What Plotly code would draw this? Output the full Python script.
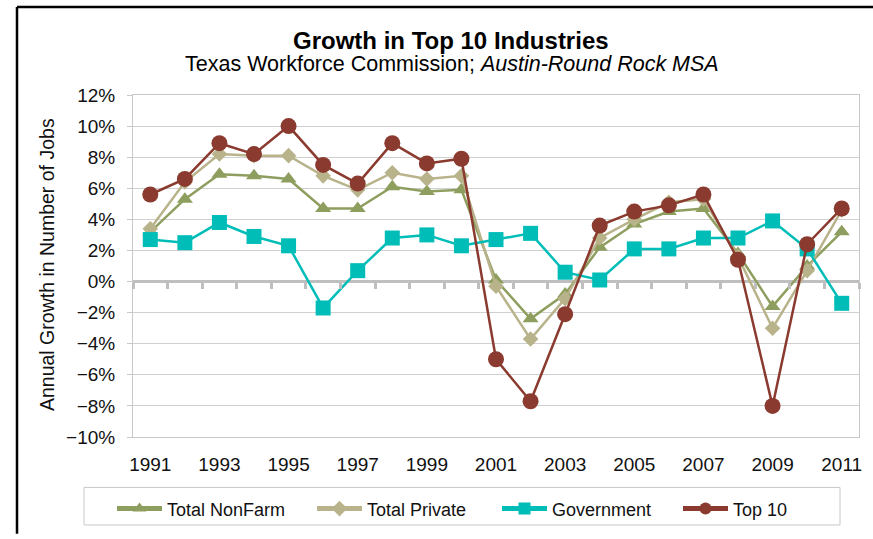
import plotly.graph_objects as go

years = list(range(1991, 2012))
total_nonfarm = [3.2, 5.3, 6.9, 6.8, 6.6, 4.7, 4.7, 6.1, 5.8, 5.9, 0.1, -2.4, -0.8, 2.2, 3.7, 4.5, 4.7, 1.8, -1.6, 1.0, 3.2]
total_private = [3.4, 6.4, 8.2, 8.1, 8.1, 6.8, 5.9, 7.0, 6.6, 6.8, -0.3, -3.7, -1.1, 2.8, 4.0, 5.1, 5.3, 1.6, -3.0, 0.7, 4.6]
government = [2.7, 2.5, 3.8, 2.9, 2.3, -1.7, 0.7, 2.8, 3.0, 2.3, 2.7, 3.1, 0.6, 0.1, 2.1, 2.1, 2.8, 2.8, 3.9, 2.1, -1.4]
top10 = [5.6, 6.6, 8.9, 8.2, 10.0, 7.5, 6.3, 8.9, 7.6, 7.9, -5.0, -7.7, -2.1, 3.6, 4.5, 4.9, 5.6, 1.4, -8.0, 2.4, 4.7]
xtick_years = list(range(1991, 2012, 2))
boundary_ticks = [y + 0.5 for y in range(1990, 2012)]

FONT = "Liberation Sans, Arial, sans-serif"
W, H = 873, 539
L, R, T, B = 133, 14, 95, 98
pw, ph = W - L - R, H - T - B

def px_x(x):
    return (x - L) / pw

def px_y(y):
    return (H - B - y) / ph

fig = go.Figure()
series = [
    ("Total NonFarm", total_nonfarm, "#8E9E5E", "triangle-up", 14, 140),
    ("Total Private", total_private, "#B8B38A", "diamond", 12, 125),
    ("Government", government, "#00BDB8", "square", 15, 121),
    ("Top 10", top10, "#8A3A2E", "circle", 16, 60),
]
for name, vals, color, sym, size, lw in series:
    fig.add_trace(go.Scatter(
        x=years, y=vals, name=name, mode="lines+markers",
        line=dict(color=color, width=2.5),
        marker=dict(symbol=sym, size=size, color=color, line=dict(width=0)),
        legendwidth=lw,
    ))

# helper trace to host the zero-line tick axis
fig.add_trace(go.Scatter(x=[], y=[], xaxis="x2", yaxis="y", showlegend=False, hoverinfo="skip"))

fig.update_layout(
    width=W, height=H,
    margin=dict(l=L, r=R, t=T, b=B),
    paper_bgcolor="white", plot_bgcolor="white",
    font=dict(family=FONT, size=19, color="#111111"),
    showlegend=True,
    legend=dict(
        orientation="h", x=px_x(112), xanchor="left", y=px_y(495), yanchor="top",
        borderwidth=0, bgcolor="rgba(0,0,0,0)",
        font=dict(size=18, color="#111111"), itemsizing="constant", itemwidth=45,
    ),
    xaxis=dict(
        range=[1990.5, 2011.5], tickvals=xtick_years, ticktext=[str(y) for y in xtick_years],
        showgrid=False, zeroline=False, showline=True, mirror=True,
        linecolor="#C8C8C8", linewidth=1, ticks="", ticklabelstandoff=10,
        tickfont=dict(size=19),
    ),
    xaxis2=dict(
        range=[1990.5, 2011.5], overlaying="x", anchor="free", position=10 / 22,
        tickvals=boundary_ticks, showticklabels=False, ticks="outside", ticklen=6,
        tickwidth=3, tickcolor="#BFBFBF", showgrid=False, zeroline=False, showline=False,
    ),
    yaxis=dict(
        range=[-10, 12], dtick=2, ticksuffix="%", showgrid=True, gridcolor="#D0D0D0",
        gridwidth=1, zeroline=True, zerolinecolor="#BFBFBF", zerolinewidth=3,
        showline=True, mirror=True, linecolor="#C8C8C8", linewidth=1,
        ticks="outside", ticklen=5, tickcolor="#C8C8C8", ticklabelstandoff=8,
        tickfont=dict(size=19),
    ),
    annotations=[
        dict(text="<b>Growth in Top 10 Industries</b>", xref="paper", yref="paper",
             x=px_x(451), y=px_y(40), xanchor="center", yanchor="middle",
             showarrow=False, font=dict(size=24, color="#000000")),
        dict(text="Texas Workforce Commission; <i>Austin-Round Rock MSA</i>", xref="paper", yref="paper",
             x=px_x(452), y=px_y(64), xanchor="center", yanchor="middle",
             showarrow=False, font=dict(size=21.5, color="#000000")),
        dict(text="Annual Growth in Number of Jobs", xref="paper", yref="paper",
             x=px_x(47), y=px_y(267), xanchor="center", yanchor="middle", textangle=-90,
             showarrow=False, font=dict(size=19.5, color="#111111")),
    ],
    shapes=[
        dict(type="line", xref="paper", yref="paper", x0=px_x(17), x1=px_x(873),
             y0=px_y(6), y1=px_y(6), line=dict(color="black", width=2.5)),
        dict(type="line", xref="paper", yref="paper", x0=px_x(17), x1=px_x(17),
             y0=px_y(6), y1=px_y(539), line=dict(color="black", width=2.5)),
        dict(type="rect", xref="paper", yref="paper", x0=px_x(84), x1=px_x(840),
             y0=px_y(492), y1=px_y(530), line=dict(color="#C8C8C8", width=1),
             fillcolor="rgba(0,0,0,0)", layer="below"),
    ],
)

fig.write_html("out.html", config={"displayModeBar": False},
               post_script="document.body.style.margin='0';document.body.style.overflow='hidden';")
